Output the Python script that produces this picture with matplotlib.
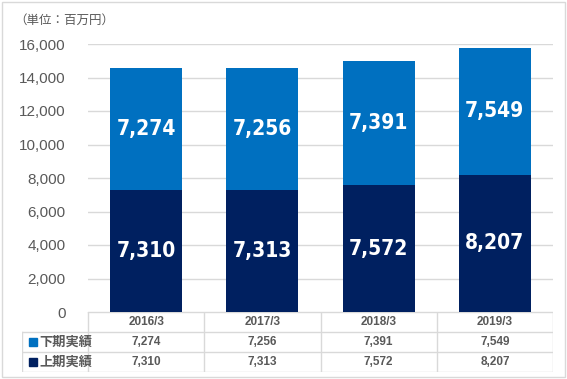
import matplotlib.pyplot as plt
import numpy as np
from matplotlib.patches import Rectangle

plt.rcParams['font.family'] = ['Noto Sans CJK JP', 'DejaVu Sans']

years = ['2016/3', '2017/3', '2018/3', '2019/3']
first_half = [7310, 7313, 7572, 8207]
second_half = [7274, 7256, 7391, 7549]
series_names = ['下期実績', '上期実績']
yticks = [0, 2000, 4000, 6000, 8000, 10000, 12000, 14000, 16000]

dark = '#002060'
light = '#0070C0'
gray = '#595959'
grid = '#D9D9D9'

W, H = 567, 379
fig = plt.figure(figsize=(W / 100, H / 100), dpi=100)


def box(x0, y0, x1, y1):
    # pixel coords (top-left origin) -> figure fraction
    return [x0 / W, 1 - y1 / H, (x1 - x0) / W, (y1 - y0) / H]


fig.add_artist(Rectangle((2 / W, 2 / H), 563 / W, 375 / H, transform=fig.transFigure,
                         fill=False, edgecolor='#D9D9D9', lw=1))

ax = fig.add_axes(box(88, 44, 553, 312))
x = np.arange(len(years))
b1 = ax.bar(x, first_half, width=0.62, color=dark)
b2 = ax.bar(x, second_half, width=0.62, bottom=first_half, color=light)
ax.set_xlim(-0.5, len(years) - 0.5)
ax.set_ylim(0, 16000)
ax.set_yticks(yticks)
ax.set_yticklabels([f'{v:,}' for v in yticks], fontsize=11, color=gray,
                   family=['Liberation Sans', 'DejaVu Sans'])
ax.tick_params(axis='y', length=0, pad=16)
ax.set_xticks([])
for s in ax.spines.values():
    s.set_visible(False)
ax.grid(axis='y', color=grid, lw=1)
ax.set_axisbelow(True)

lab_font = dict(color='white', fontsize=15, fontweight='bold', ha='center', va='center',
                family=['DejaVu Sans'], fontstretch='condensed')
for i in range(len(years)):
    ax.text(x[i], first_half[i] / 2, f'{first_half[i]:,}', **lab_font)
    ax.text(x[i], first_half[i] + second_half[i] / 2, f'{second_half[i]:,}', **lab_font)

fig.text(14 / W, 1 - 20 / H, '（単位：百万円）', fontsize=9, color=gray, va='center')

# data table
tab = fig.add_axes(box(22, 312, 553, 372))
left = -0.5 - 66 / 116
tab.set_xlim(left, len(years) - 0.5)
tab.set_ylim(3, 0)
tab.axis('off')
lc = dict(color=grid, lw=1)
tab.plot([-0.5, len(years) - 0.5], [0, 0], **lc)
for r in [1, 2, 3]:
    tab.plot([left, len(years) - 0.5], [r, r], **lc)
tab.plot([left, left], [1, 3], **lc)
for c in range(len(years) + 1):
    tab.plot([c - 0.5, c - 0.5], [0, 3], **lc)

cell = dict(fontsize=8.5, fontweight='bold', color=gray, ha='center', va='center',
            family=['Liberation Sans', 'DejaVu Sans'])
rows = [second_half, first_half]
colors = [light, dark]
for i in range(len(years)):
    tab.text(x[i], 0.5, years[i], **cell)
    for r, vals in enumerate(rows):
        tab.text(x[i], r + 1.5, f'{vals[i]:,}', **cell)
for r, name in enumerate(series_names):
    tab.add_patch(Rectangle((left + 0.06, r + 1.5 - 0.22), 0.065, 0.44, color=colors[r], clip_on=False))
    tab.text(left + 0.15, r + 1.5, name, fontsize=9.5, fontweight='bold', color=gray,
             ha='left', va='center')

fig.savefig('out.png', dpi=100)
